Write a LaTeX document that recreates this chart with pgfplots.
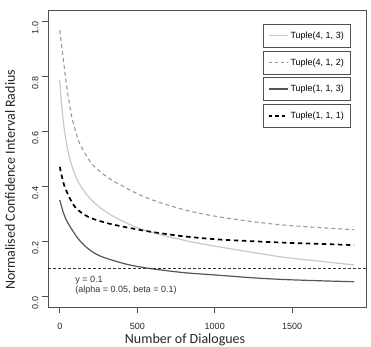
\documentclass[border=0pt]{standalone}
\usepackage{pgfplots}
\pgfplotsset{compat=1.18}
\usepackage{fontspec}
\setmainfont{Liberation Sans}
\newfontfamily\labelfont{Carlito}

\definecolor{lightcurve}{HTML}{C8C8C8}
\definecolor{midcurve}{HTML}{9A9A9A}
\definecolor{darkcurve}{HTML}{555555}
\definecolor{framegray}{HTML}{505050}

% Confidence interval radius against number of dialogues
\pgfplotstableread{
x y
0 0.785
11 0.700
21 0.645
32 0.595
54 0.525
80 0.470
119 0.415
183 0.362
250 0.326
330 0.295
442 0.262
528 0.243
600 0.231
700 0.216
850 0.197
1014 0.180
1250 0.158
1445 0.141
1700 0.125
1900 0.113
}\tupleAAC

\pgfplotstableread{
x y
0 0.967
21 0.870
43 0.770
76 0.655
119 0.568
151 0.530
205 0.482
260 0.452
334 0.422
399 0.402
464 0.382
593 0.350
800 0.314
1014 0.289
1250 0.270
1445 0.258
1700 0.248
1900 0.241
}\tupleAAB

\pgfplotstableread{
x y
0 0.349
25 0.300
54 0.264
119 0.208
183 0.172
250 0.148
334 0.131
450 0.113
582 0.100
800 0.085
1014 0.076
1250 0.066
1445 0.060
1700 0.055
1900 0.052
}\tupleBBC

\pgfplotstableread{
x y
0 0.470
32 0.397
97 0.325
183 0.288
313 0.264
464 0.246
593 0.233
800 0.217
1014 0.206
1250 0.199
1445 0.194
1700 0.189
1900 0.185
}\tupleBBA

\pgfplotsset{
  boxlegend/.style={
    hide axis, scale only axis, width=318pt, height=297pt,
    xmin=0, xmax=1, ymin=0, ymax=1,
    legend style={at={(0.953,#1)}, anchor=north east, draw=framegray,
      line width=0.6pt, font=\fontsize{9}{10}\selectfont,
      inner xsep=5pt, inner ysep=5.5pt, fill=white,
      nodes={inner xsep=2pt}},
    legend image code/.code={\draw[##1] (0pt,0pt) -- (13pt,0pt);
      \path (0pt,0pt) -- (19pt,0pt);},
  }
}

\begin{document}
\begin{tikzpicture}
\begin{axis}[
  scale only axis, width=318pt, height=297pt,
  xmin=-76, xmax=1976, ymin=-0.04, ymax=1.04,
  axis line style={framegray, line width=0.7pt},
  xtick={0,500,1000,1500},
  ytick={0,0.2,0.4,0.6,0.8,1.0},
  yticklabels={0.0,0.2,0.4,0.6,0.8,1.0},
  tick align=outside, major tick length=6pt,
  tick style={framegray, line width=0.6pt},
  xtick pos=left, ytick pos=left,
  /pgf/number format/assume math mode=true,
  /pgf/number format/1000 sep={},
  ticklabel style={font=\fontsize{9}{10}\selectfont, text=black!85},
  xticklabel style={yshift=-7pt},
  yticklabel style={rotate=90, anchor=south, xshift=-7pt},
  xlabel={Number of Dialogues},
  ylabel={Normalised Confidence Interval Radius},
  label style={font=\labelfont\fontsize{14}{16}\selectfont, text=black!85},
  xlabel style={at={(axis description cs:0.431,-0.111)}, anchor=center},
  ylabel style={at={(axis description cs:-0.1195,0.428)}, anchor=center, rotate=0},
  clip=true,
]
\addplot[lightcurve, line width=1.2pt, smooth, tension=0.5] table {\tupleAAC};
\addplot[midcurve, line width=1.1pt, dash pattern=on 4pt off 3pt, smooth, tension=0.5] table {\tupleAAB};
\addplot[darkcurve, line width=1.2pt, smooth, tension=0.5] table {\tupleBBC};
\addplot[black, line width=1.7pt, dash pattern=on 4.5pt off 3.5pt, smooth, tension=0.5] table {\tupleBBA};
% reference level y = 0.1
\addplot[black!80, line width=0.6pt, dash pattern=on 3pt off 2pt] coordinates {(-76,0.1) (1976,0.1)};
\node[anchor=west, font=\fontsize{9}{10}\selectfont, text=black!80, inner sep=0pt] at (axis cs:100,0.058) {y = 0.1};
\node[anchor=west, font=\fontsize{9}{10}\selectfont, text=black!80, inner sep=0pt] at (axis cs:100,0.022) {(alpha = 0.05, beta = 0.1)};
\end{axis}

\begin{axis}[boxlegend=0.953]
\addlegendimage{lightcurve, line width=1.2pt}
\addlegendentry{Tuple(4, 1, 3)}
\end{axis}
\begin{axis}[boxlegend=0.863]
\addlegendimage{midcurve, line width=1.1pt, dash pattern=on 3pt off 3pt}
\addlegendentry{Tuple(4, 1, 2)}
\end{axis}
\begin{axis}[boxlegend=0.774]
\addlegendimage{darkcurve, line width=1.2pt}
\addlegendentry{Tuple(1, 1, 3)}
\end{axis}
\begin{axis}[boxlegend=0.684]
\addlegendimage{black, line width=1.7pt, dash pattern=on 3.5pt off 3pt}
\addlegendentry{Tuple(1, 1, 1)}
\end{axis}

\pgfresetboundingbox
\path[use as bounding box] ([shift={(-48pt,-39pt)}]current axis.south west) rectangle ([shift={(5pt,10pt)}]current axis.north east);
\end{tikzpicture}
\end{document}
